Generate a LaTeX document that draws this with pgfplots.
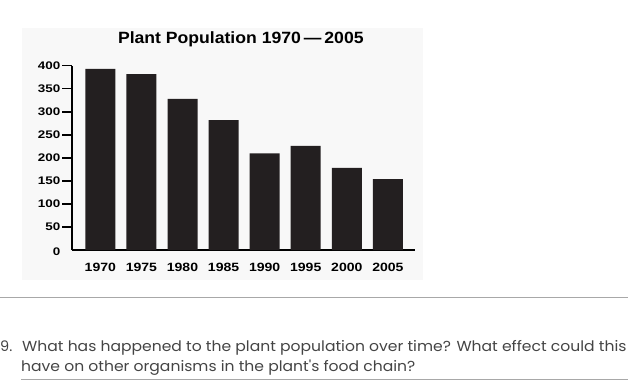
\documentclass[border=0pt]{standalone}
\usepackage{fontspec}
\setmainfont{Liberation Sans}
\newfontfamily\qfont{Poppins}
\usepackage{pgfplots}
\pgfplotsset{compat=1.18}
\definecolor{barcol}{HTML}{231F20}
\definecolor{panel}{HTML}{F8F8F8}
\definecolor{qtext}{HTML}{444444}
\definecolor{rule}{HTML}{A8A8A8}
\newcommand\sx[1]{\scalebox{1.17}[1]{#1}}
\newcommand\sy[1]{\scalebox{1.22}[1]{#1}}
\begin{document}
\begin{tikzpicture}[x=1pt,y=-1pt]
\path[use as bounding box] (0,0) rectangle (628,381);
\clip (0,0) rectangle (628,381);
\fill[panel] (22,28) rectangle (423,280);
\begin{axis}[
  at={(72pt,-250pt)}, anchor=south west,
  scale only axis, width=343pt, height=184.3pt,
  xmin=-0.69, xmax=7.66, ymin=0, ymax=400,
  axis x line*=bottom, axis y line*=left,
  axis line style={line width=2.4pt, -},
  ybar, bar width=30pt,
  xtick=data,
  xticklabels={\sx{1970},\sx{1975},\sx{1980},\sx{1985},\sx{1990},\sx{1995},\sx{2000},\sx{2005}},
  xtick style={draw=none},
  ytick={50,100,...,400},
  yticklabels={\sy{50},\sy{100},\sy{150},\sy{200},\sy{250},\sy{300},\sy{350},\sy{400}},
  extra y ticks={0},
  extra y tick labels={\sy{0}},
  extra y tick style={tick style={draw=none}, yticklabel style={yshift=-1.5pt}},
  tick align=outside, major tick length=10pt,
  ytick style={line width=1.5pt, black},
  xticklabel style={font=\fontsize{12}{14}\selectfont\bfseries, inner sep=0pt, yshift=-2.5pt},
  yticklabel style={font=\fontsize{11}{13}\selectfont\bfseries, inner sep=0pt, xshift=-1.5pt},
]
\addplot[fill=barcol, draw=none] coordinates {
  (0,393) (1,382) (2,328) (3,282) (4,210) (5,226) (6,178) (7,154)};
\end{axis}
\node[font=\fontsize{16.3}{19}\selectfont\bfseries, anchor=base, inner sep=0pt] at (240.8,43.3) {\scalebox{1.08}[1]{Plant Population 1970\,—\,2005}};
\draw[rule, line width=1.4pt] (0,297.7) -- (628,297.7);
\draw[rule, line width=0.8pt] (21,379.3) -- (628,379.3);
\node[qtext, font=\qfont\fontsize{14.5}{17}\selectfont, anchor=base west, inner sep=0pt] at (0,351.7) {9.};
\node[qtext, font=\qfont\fontsize{14.5}{17}\selectfont, anchor=base west, inner sep=0pt] at (22,351.7) {\scalebox{1.075}[1]{What has happened to the plant population over time? What effect could this}};
\node[qtext, font=\qfont\fontsize{14.5}{17}\selectfont, anchor=base west, inner sep=0pt] at (21,371.5) {\scalebox{1.075}[1]{have on other organisms in the plant's food chain?}};
\end{tikzpicture}
\end{document}
